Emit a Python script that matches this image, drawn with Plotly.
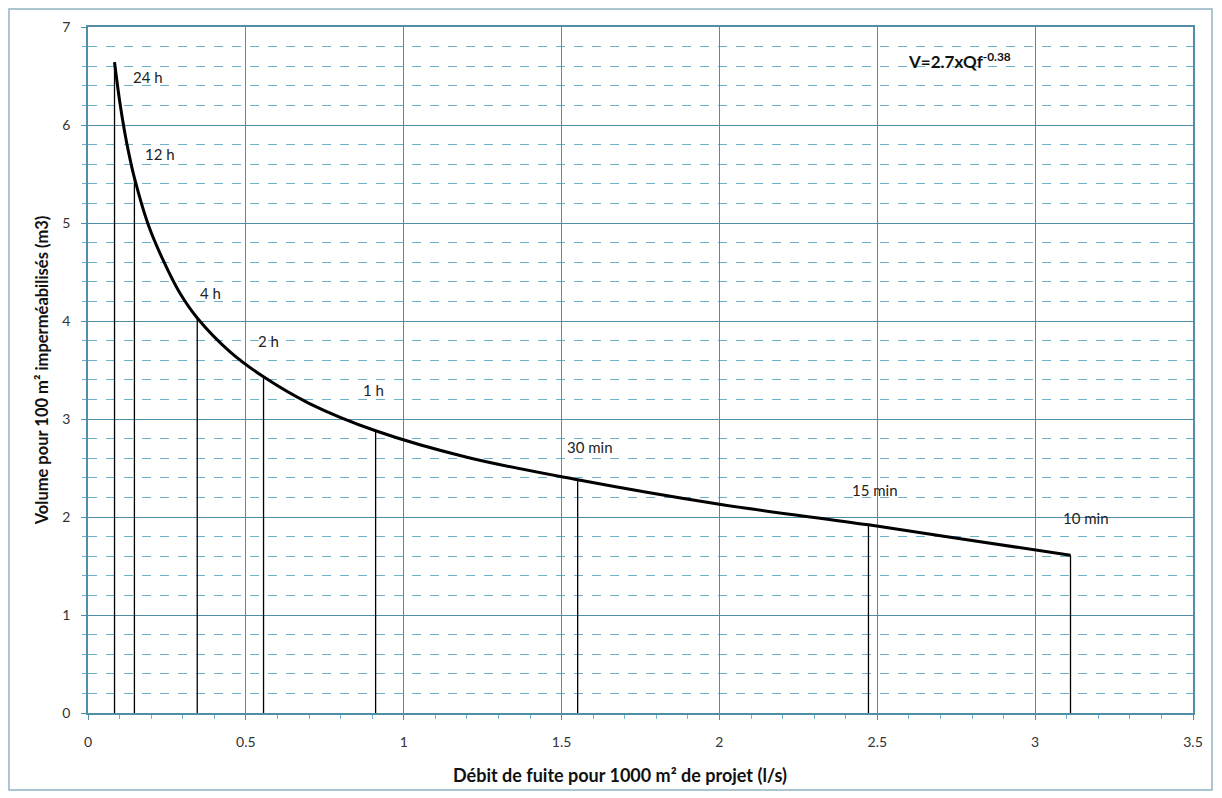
import plotly.graph_objects as go

# Curve
curve_qf = [0.084, 0.100, 0.115, 0.130, 0.147, 0.190, 0.238, 0.290, 0.346, 0.450,
            0.556, 0.700, 0.911, 1.200, 1.551, 2.000, 2.472, 2.800, 3.112]
curve_v = [6.64, 6.25, 5.95, 5.70, 5.46, 4.99, 4.62, 4.29, 4.03, 3.685,
           3.43, 3.16, 2.88, 2.61, 2.38, 2.13, 1.92, 1.76, 1.61]

# Duration markers
durations = ["24 h", "12 h", "4 h", "2 h", "1 h", "30 min", "15 min", "10 min"]
mark_qf = [0.084, 0.147, 0.346, 0.556, 0.911, 1.551, 2.472, 3.112]
mark_v = [6.64, 5.46, 4.03, 3.43, 2.88, 2.38, 1.92, 1.61]

x_ticks = [0, 0.5, 1, 1.5, 2, 2.5, 3, 3.5]
x_tick_labels = ["0", "0.5", "1", "1.5", "2", "2.5", "3", "3.5"]
y_ticks = [0, 1, 2, 3, 4, 5, 6, 7]

x_title = "Débit de fuite pour 1000 m² de projet (l/s)"
y_title = "Volume pour 100 m² imperméabilisés (m3)"
formula_text = "V=2.7xQf<sup>-0.38</sup>"
formula_pos = (2.76, 6.66)

# label offsets in pixels (layout only)
label_dx = [33, 26, 13, 5, -2, 12, 7, 15]
label_dy = [-15, 24, 25, 36, 41, 33, 35, 37]

FONT = "Lato"
GRID = "#4f8ea6"
MINOR = "#6fb0cb"

fig = go.Figure()

# vertical marker lines
vx, vy = [], []
for q, v in zip(mark_qf, mark_v):
    vx += [q, q, None]
    vy += [0, v, None]
fig.add_trace(go.Scatter(x=vx, y=vy, mode="lines",
                         line=dict(color="black", width=1.3),
                         hoverinfo="skip", showlegend=False))

fig.add_trace(go.Scatter(x=curve_qf, y=curve_v, mode="lines",
                         line=dict(color="black", width=3, shape="spline", smoothing=1.0),
                         showlegend=False))

for lab, q, v, dx, dy in zip(durations, mark_qf, mark_v, label_dx, label_dy):
    fig.add_annotation(x=q, y=v, text=lab, showarrow=False, xshift=dx, yshift=dy,
                       font=dict(family=FONT, size=15, color="#222222"))

fig.add_annotation(x=formula_pos[0], y=formula_pos[1], text=formula_text, showarrow=False,
                   font=dict(family=FONT, size=17, color="#111111", weight="bold"))

# x axis title (placed as annotation to match its offset)
fig.add_annotation(xref="paper", yref="paper", x=0.481, y=-0.090, text="<b>" + x_title + "</b>",
                   showarrow=False, xanchor="center", yanchor="middle",
                   font=dict(family=FONT, size=18, color="#111111"))

# outer chart frame
fig.add_shape(type="rect", xref="paper", yref="paper",
              x0=-0.0715, x1=1.0172, y0=-0.1122, y1=1.0262,
              line=dict(color="#8fb4c4", width=1.5), layer="below")

fig.update_layout(
    width=1222, height=798,
    margin=dict(l=80, r=37, t=19, b=93, autoexpand=False),
    paper_bgcolor="white", plot_bgcolor="white",
    font=dict(family=FONT, size=12, color="#333333"),
    xaxis=dict(range=[0, 3.5], tickvals=x_ticks, ticktext=x_tick_labels,
               showgrid=True, gridcolor=GRID, gridwidth=1,
               showline=True, linecolor=GRID, linewidth=1.5, mirror=True,
               ticks="outside", ticklen=5, tickcolor=GRID,
               ticklabelstandoff=10, automargin=False,
               minor=dict(dtick=0.1, ticks="outside", ticklen=4, tickcolor=MINOR, showgrid=False),
               zeroline=False,
               tickfont=dict(family=FONT, size=14, color="#333333")),
    yaxis=dict(range=[0, 7], tickvals=y_ticks,
               showgrid=True, gridcolor=GRID, gridwidth=1,
               showline=True, linecolor=GRID, linewidth=1.5, mirror=True,
               ticks="outside", ticklen=5, tickcolor=GRID,
               ticklabelstandoff=8, automargin=False,
               minor=dict(dtick=0.2, showgrid=True, gridcolor=MINOR, griddash="dash",
                          gridwidth=1, ticks="outside", ticklen=4, tickcolor=MINOR),
               zeroline=False,
               tickfont=dict(family=FONT, size=14, color="#333333"),
               title=dict(text="<b>" + y_title + "</b>",
                          font=dict(family=FONT, size=16.5, color="#111111"), standoff=10)),
)

fig.write_html("out.html")
